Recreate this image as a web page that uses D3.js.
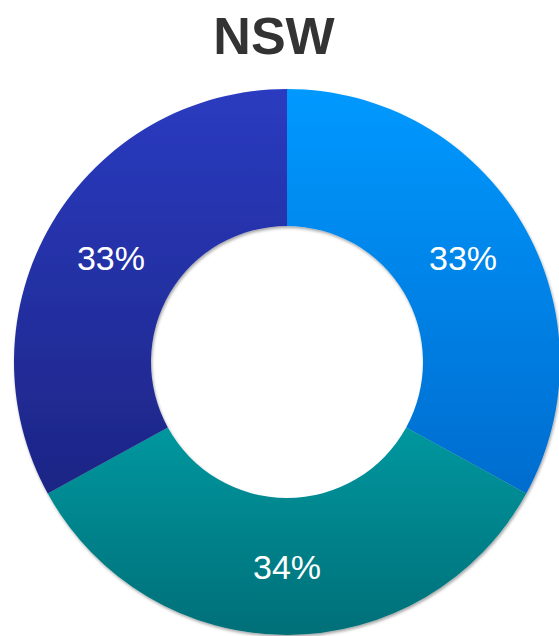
<!DOCTYPE html>
<html>
<head>
<meta charset="utf-8">
<script src="https://cdn.jsdelivr.net/npm/d3@7"></script>
<style>
  body { margin: 0; background: #fff; }
  svg { display: block; font-family: "Liberation Sans", Arial, sans-serif; }
</style>
</head>
<body>
<div id="chart_container"></div>
<script>
const categories = ['A', 'B', 'C'];
const values = [33, 34, 33];
const labels = ['33%', '34%', '33%'];
const title = 'NSW';

// gradient stops per slice (top, bottom)
const colors = [
  ['#0099ff', '#006ccf'],
  ['#00979f', '#006f78'],
  ['#2a3bc0', '#1d2585']
];

const W = 559, H = 636;
const cx = 287, cy = 362;
const outerR = 273, innerR = 136;

const svg = d3.select('#chart_container').append('svg')
  .attr('width', W)
  .attr('height', H);

const defs = svg.append('defs');

const shadow = defs.append('filter')
  .attr('id', 'shadow')
  .attr('x', '-10%').attr('y', '-10%')
  .attr('width', '120%').attr('height', '120%');
shadow.append('feDropShadow')
  .attr('dx', 1).attr('dy', 2)
  .attr('stdDeviation', 1.5)
  .attr('flood-color', '#000')
  .attr('flood-opacity', 0.35);

colors.forEach((c, i) => {
  const g = defs.append('linearGradient')
    .attr('id', 'grad' + i)
    .attr('x1', 0).attr('y1', 0)
    .attr('x2', 0).attr('y2', 1);
  g.append('stop').attr('offset', '0%').attr('stop-color', c[0]);
  g.append('stop').attr('offset', '100%').attr('stop-color', c[1]);
});

const pie = d3.pie()
  .sort(null)
  .value(d => d);

const arc = d3.arc()
  .innerRadius(innerR)
  .outerRadius(outerR);

const arcs = pie(values);

const chart = svg.append('g')
  .attr('transform', `translate(${cx}, ${cy})`);

chart.append('g')
  .attr('filter', 'url(#shadow)')
  .selectAll('path')
  .data(arcs)
  .enter()
  .append('path')
  .attr('d', arc)
  .attr('fill', (d, i) => `url(#grad${i})`);

chart.selectAll('.value')
  .data(arcs)
  .enter()
  .append('text')
  .attr('class', 'value')
  .attr('transform', d => `translate(${arc.centroid(d)})`)
  .attr('dy', '0.36em')
  .attr('text-anchor', 'middle')
  .attr('fill', '#fff')
  .style('font-size', '34px')
  .text((d, i) => labels[i]);

svg.append('text')
  .attr('class', 'title')
  .attr('x', 274)
  .attr('y', 54)
  .attr('text-anchor', 'middle')
  .attr('fill', '#333333')
  .style('font-size', '52px')
  .style('font-weight', 'bold')
  .text(title);
</script>
</body>
</html>
